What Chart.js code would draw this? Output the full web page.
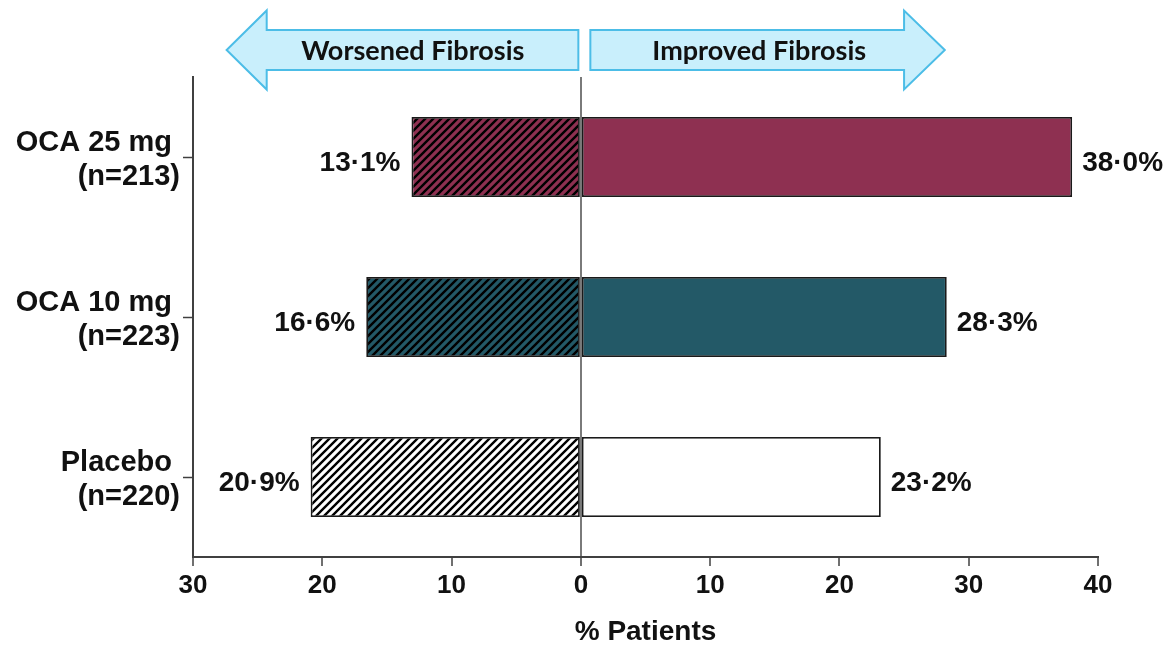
<html>
<body style="margin:0;background:#fff">
<canvas id="fibChart" width="1174" height="649"></canvas>
<script src="https://cdn.jsdelivr.net/npm/chart.js@4.4.1/dist/chart.umd.min.js"></script>
<script>
const groups = [['OCA 25 mg ', '(n=213)'], ['OCA 10 mg ', '(n=223)'], ['Placebo ', '(n=220)']];
const worsened = [13.1, 16.6, 20.9];
const improved = [38.0, 28.3, 23.2];
const barColors = ['#8E3051', '#235967', '#ffffff'];
const arrowTexts = ['Worsened Fibrosis', 'Improved Fibrosis'];
const axisTitle = '% Patients';

const FONT = "'Liberation Sans', Arial, sans-serif";

// diagonal hatch "/" on a coloured background
function hatch(bg) {
    const s = 8;
    const c = document.createElement('canvas');
    c.width = s; c.height = s;
    const g = c.getContext('2d');
    g.fillStyle = bg;
    g.fillRect(0, 0, s, s);
    g.strokeStyle = '#000';
    g.lineWidth = 2.4;
    g.beginPath();
    g.moveTo(-1, s + 1); g.lineTo(s + 1, -1);
    g.moveTo(-1, 1); g.lineTo(1, -1);
    g.moveTo(s - 1, s + 1); g.lineTo(s + 1, s - 1);
    g.stroke();
    return c.getContext('2d').createPattern(c, 'repeat');
}

const fmt = v => Math.abs(v).toFixed(1).replace('.', '\u00B7') + '%';

const labelPlugin = {
    id: 'barLabels',
    afterDatasetsDraw(chart) {
        const ctx = chart.ctx;
        ctx.save();
        ctx.font = 'bold 28px ' + FONT;
        ctx.fillStyle = '#111';
        ctx.textBaseline = 'middle';
        chart.data.datasets.forEach((ds, di) => {
            chart.getDatasetMeta(di).data.forEach((bar, i) => {
                const v = ds.data[i];
                if (v < 0) {
                    ctx.textAlign = 'right';
                    ctx.fillText(fmt(v), bar.x - 11, bar.y + 6);
                } else {
                    ctx.textAlign = 'left';
                    ctx.fillText(fmt(v), bar.x + 10, bar.y + 6);
                }
            });
        });
        ctx.restore();
    }
};

const arrowPlugin = {
    id: 'arrows',
    afterDraw(chart) {
        const ctx = chart.ctx;
        const x = chart.scales.x;
        const x0 = x.getPixelForValue(0);
        const mid = 50, body = 20, head = 39.5;
        function arrow(tail, base, tip) {
            ctx.beginPath();
            ctx.moveTo(tail, mid - body);
            ctx.lineTo(base, mid - body);
            ctx.lineTo(base, mid - head);
            ctx.lineTo(tip, mid);
            ctx.lineTo(base, mid + head);
            ctx.lineTo(base, mid + body);
            ctx.lineTo(tail, mid + body);
            ctx.closePath();
            ctx.fill();
            ctx.stroke();
        }
        ctx.save();
        ctx.fillStyle = '#C9EFFC';
        ctx.strokeStyle = '#4CBDE7';
        ctx.lineWidth = 2;
        ctx.lineJoin = 'miter';
        arrow(x0 - 2.5, x.getPixelForValue(-24.3), x.getPixelForValue(-27.4));
        arrow(x0 + 9.5, x.getPixelForValue(25.0), x.getPixelForValue(28.15));
        ctx.fillStyle = '#111';
        ctx.font = "bold 27px Lato, 'Open Sans', sans-serif";
        ctx.textAlign = 'center';
        ctx.textBaseline = 'middle';
        ctx.fillText(arrowTexts[0], x.getPixelForValue(-13), mid + 1);
        ctx.fillText(arrowTexts[1], x.getPixelForValue(13.8), mid + 1);
        ctx.restore();
    }
};

const data = {
    labels: groups,
    datasets: [
        {
            label: 'Worsened',
            data: worsened.map(v => -v),
            backgroundColor: barColors.map(hatch),
            borderColor: '#1a1a1a',
            borderWidth: 1.8,
            borderSkipped: false,
            barPercentage: 0.5,
            categoryPercentage: 1.0
        },
        {
            label: 'Improved',
            data: improved,
            backgroundColor: barColors,
            borderColor: '#1a1a1a',
            borderWidth: 1.8,
            borderSkipped: false,
            barPercentage: 0.5,
            categoryPercentage: 1.0
        }
    ]
};

const config = {
    type: 'bar',
    data: data,
    options: {
        indexAxis: 'y',
        responsive: false,
        animation: false,
        devicePixelRatio: 1,
        layout: { padding: { top: 77, right: 76, left: 0, bottom: 0 } },
        plugins: {
            legend: { display: false },
            tooltip: { enabled: false }
        },
        scales: {
            x: {
                stacked: true,
                min: -30,
                max: 40,
                afterFit: s => { s.height = 92; },
                ticks: {
                    stepSize: 10,
                    callback: v => Math.abs(v),
                    color: '#111',
                    font: { family: FONT, size: 26, weight: 'bold' },
                    padding: 4,
                    maxRotation: 0
                },
                grid: {
                    drawOnChartArea: true,
                    color: c => (c.tick && c.tick.value === 0) ? '#7a7a7a' : 'rgba(0,0,0,0)',
                    lineWidth: 2,
                    tickColor: '#404040',
                    tickLength: 9,
                    tickWidth: 1.5
                },
                border: { color: '#404040', width: 2 },
                title: {
                    display: true,
                    text: axisTitle,
                    color: '#111',
                    font: { family: FONT, size: 28, weight: 'bold' },
                    padding: { top: 0, bottom: 0 }
                }
            },
            y: {
                stacked: true,
                afterFit: s => { s.width = 193; },
                ticks: {
                    color: '#111',
                    font: { family: FONT, size: 29, weight: 'bold', lineHeight: 1.2 },
                    padding: 3,
                    labelOffset: 3
                },
                grid: {
                    offset: false,
                    drawOnChartArea: false,
                    tickColor: '#404040',
                    tickLength: 10,
                    tickWidth: 1.5
                },
                border: { color: '#404040', width: 2 }
            }
        }
    },
    plugins: [labelPlugin, arrowPlugin]
};

const fibChart = new Chart(document.getElementById('fibChart').getContext('2d'), config);
</script>
</body>
</html>
